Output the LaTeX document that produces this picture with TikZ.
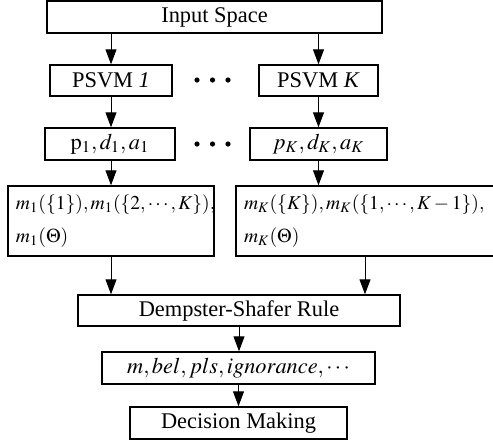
\documentclass[tikz,border=0pt]{standalone}
\usepackage{mathptmx}
\usepackage{fontspec}
\setmainfont{Liberation Serif}
\usetikzlibrary{arrows.meta}
\begin{document}
\begin{tikzpicture}[
    x=0.5pt,y=-0.5pt,
    every node/.style={font=\fontsize{11.2}{17}\selectfont},
    blk/.style 2 args={draw,line width=0.7pt,inner sep=0pt,
        minimum width=#1*0.5pt,minimum height=#2*0.5pt},
    massblk/.style={align=left,inner xsep=4pt,
        font=\fontsize{9.8}{16.5}\selectfont},
    arr/.style={-{Triangle[length=7.5pt,width=5.5pt]},line width=0.5pt}]
    \useasboundingbox (0,0) rectangle (493,441);
    \node[blk={335}{32}] (input) at (214.5,17) {Input Space};
    \node[blk={122}{31}] (psvm1) at (111,80.5) {PSVM \textit{1}};
    \node[blk={119}{31}] (psvmK) at (318.5,80.5) {PSVM \textit{K}};
    \node[blk={130}{32}] (out1) at (110,144) {$\mathrm{p}_1,d_1,a_1$};
    \node[blk={137}{32}] (outK) at (318.5,144) {$p_K,d_K,a_K$};
    \node[blk={206}{70},massblk,text width=95pt] (mass1) at (111,221)
        {\mbox{$m_1(\{1\}),m_1(\{2,\cdots,K\}),$}\\\mbox{$m_1(\Theta)$}};
    \node[blk={258}{70},massblk,text width=121pt] (massK) at (365,221)
        {\mbox{$m_K(\{K\}),m_K(\{1,\cdots,K-1\}),$}\\\mbox{$m_K(\Theta)$}};
    \node[blk={322}{31}] (ds) at (239,310.5) {Dempster-Shafer Rule};
    \node[blk={273}{32}] (res) at (238.5,368)
        {$m,bel,pls,ignorance,\cdots$};
    \node[blk={217}{32}] (dec) at (238.5,423) {Decision Making};
    \foreach \y in {80,144} {
        \foreach \x in {197,212.5,228}
            \fill (\x,\y) circle (1.3pt);
    }
    \draw[arr] (input.south -| psvm1.north) -- (psvm1);
    \draw[arr] (input.south -| psvmK.north) -- (psvmK);
    \draw[arr] (psvm1) -- (psvm1 |- out1.north);
    \draw[arr] (psvmK) -- (psvmK |- outK.north);
    \draw[arr] (out1.south -| psvm1) -- (psvm1 |- mass1.north);
    \draw[arr] (outK.south -| psvmK) -- (psvmK |- massK.north);
    \draw[arr] (mass1.south -| psvm1) -- (psvm1 |- ds.north);
    \draw[arr] (massK) -- (massK |- ds.north);
    \draw[arr] (ds) -- (ds |- res.north);
    \draw[arr] (res) -- (res |- dec.north);
\end{tikzpicture}
\end{document}
